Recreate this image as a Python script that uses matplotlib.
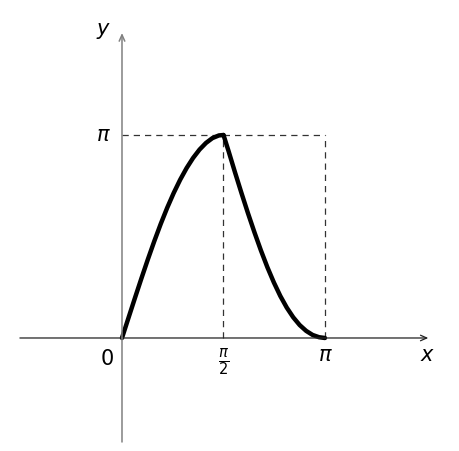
import numpy as np
import matplotlib
matplotlib.use('Agg')
import matplotlib.pyplot as plt

PI = np.pi

# curve (x, y in radians)
rise_x = [0.0, 0.1, 0.2, 0.3, 0.4, 0.5, 0.6, 0.7, 0.8,
          0.9, 1.0, 1.1, 1.2, 1.3, 1.4, 1.5, PI / 2]
rise_y = [0.0, 0.31, 0.618, 0.921, 1.216, 1.499, 1.767, 2.016, 2.244,
          2.449, 2.63, 2.786, 2.916, 3.019, 3.094, 3.135, PI]

fall_x = [PI / 2, 1.65, 1.75, 1.85, 1.95, 2.05, 2.15, 2.25, 2.35,
          2.45, 2.55, 2.65, 2.75, 2.85, 2.95, 3.05, PI]
fall_y = [PI, 2.89, 2.56, 2.24, 1.93, 1.635, 1.355, 1.095, 0.86,
          0.65, 0.47, 0.32, 0.20, 0.11, 0.047, 0.012, 0.0]

tick_x = [0, PI / 2, PI]
tick_x_labels = [r'$0$', r'$\frac{\pi}{2}$', r'$\pi$']
peak = (PI / 2, PI)

plt.rcParams['mathtext.fontset'] = 'dejavusans'

fig = plt.figure(figsize=(4.6, 4.51), dpi=100)
ax = fig.add_axes([0, 0, 1, 1])
ax.set_xlim(-1.888, 5.231)
ax.set_ylim(-1.749, 5.231)
ax.axis('off')

# axes with arrows
ax.annotate('', xy=(4.74, 0), xytext=(-1.58, 0),
            arrowprops=dict(arrowstyle='->,head_length=0.45,head_width=0.2',
                            color='#222222', lw=0.9, shrinkA=0, shrinkB=0))
ax.annotate('', xy=(0, 4.72), xytext=(0, -1.61),
            arrowprops=dict(arrowstyle='->,head_length=0.45,head_width=0.2',
                            color='#808080', lw=1.1, shrinkA=0, shrinkB=0))

# dashed guides
dash = dict(color='#333333', lw=0.9, dashes=(5, 4))
ax.plot([0, PI], [peak[1], peak[1]], **dash)
ax.plot([peak[0], peak[0]], [0, peak[1]], **dash)
ax.plot([PI, PI], [0, peak[1]], **dash)

# curve
ax.plot(rise_x, rise_y, color='black', lw=3.2, solid_capstyle='round',
        solid_joinstyle='round')
ax.plot(fall_x, fall_y, color='black', lw=3.2, solid_capstyle='round',
        solid_joinstyle='round')

fs = 15
ax.text(-0.237, -0.325, tick_x_labels[0], fontsize=fs, ha='center', va='center')
ax.text(tick_x[1], -0.371, tick_x_labels[1], fontsize=fs, ha='center', va='center')
ax.text(tick_x[2], -0.27, tick_x_labels[2], fontsize=fs, ha='center', va='center')
ax.text(-0.294, PI, r'$\pi$', fontsize=fs, ha='center', va='center')
ax.text(4.736, -0.26, r'$x$', fontsize=fs, ha='center', va='center')
ax.text(-0.28, 4.72 + 0.03, r'$y$', fontsize=fs, ha='center', va='center')

fig.savefig('out.png', dpi=100)
